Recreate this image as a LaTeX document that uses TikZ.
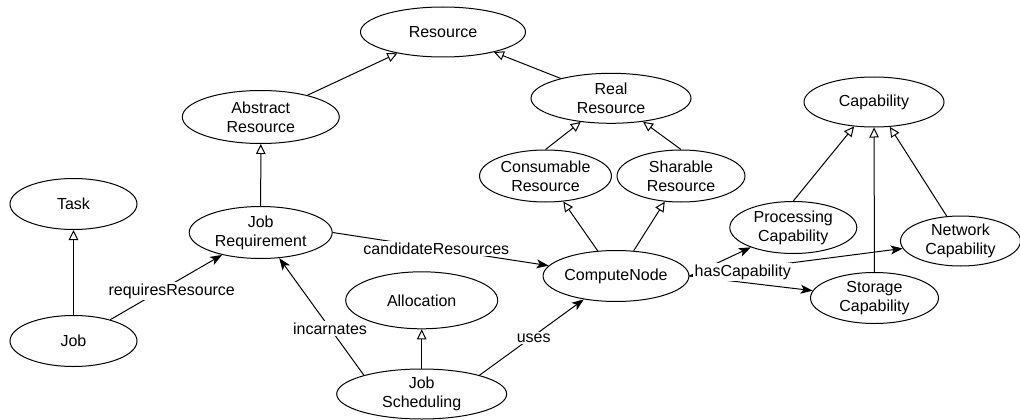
\documentclass[tikz,border=0pt]{standalone}
\usepackage{fontspec}
\setmainfont{Liberation Sans}
\usetikzlibrary{shapes.geometric,arrows.meta}

\tikzset{
  cls/.style={ellipse, draw, line width=1pt, inner sep=0pt, align=center,
              font=\fontsize{16}{19}\selectfont},
  isa/.style={draw, line width=1pt,
              -{Triangle[open, length=10pt, width=9.5pt, fill=white]}},
  rel/.style={draw, line width=1pt,
              -{Stealth[length=12pt, width=9pt, inset=3pt]}},
  lbl/.style={fill=white, inner sep=1.5pt, font=\fontsize{16}{19}\selectfont},
}

\begin{document}
\begin{tikzpicture}[x=1pt, y=-1pt]
\useasboundingbox (0,0) rectangle (1020,420);

% classes
\node[cls, minimum width=165, minimum height=50] (res)   at (443,32)    {Resource};
\node[cls, minimum width=157, minimum height=53] (ar)    at (260.8,117) {Abstract\\Resource};
\node[cls, minimum width=160, minimum height=50] (real)  at (611,98.3)  {Real\\Resource};
\node[cls, minimum width=127, minimum height=51] (task)  at (73.5,204)  {Task};
\node[cls, minimum width=127, minimum height=51] (job)   at (73.5,341)  {Job};
\node[cls, minimum width=143, minimum height=52] (jr)    at (260.7,232.5) {Job\\Requirement};
\node[cls, minimum width=152, minimum height=57] (alloc) at (421.7,300.3) {Allocation};
\node[cls, minimum width=170, minimum height=50] (js)    at (421.7,394) {Job\\Scheduling};
\node[cls, minimum width=144, minimum height=51] (cn)    at (616,276)   {ComputeNode};
\node[cls, minimum width=132, minimum height=52] (cons)  at (545.5,176) {Consumable\\Resource};
\node[cls, minimum width=128, minimum height=52] (shar)  at (681,176)   {Sharable\\Resource};
\node[cls, minimum width=140, minimum height=50] (cap)   at (874,102)   {Capability};
\node[cls, minimum width=127, minimum height=52] (proc)  at (793.3,227.5) {Processing\\Capability};
\node[cls, minimum width=120, minimum height=50] (net)   at (960.5,241) {Network\\Capability};
\node[cls, minimum width=128, minimum height=51] (stor)  at (874.5,298) {Storage\\Capability};

% generalisations
\draw[isa] (ar) -- (res);
\draw[isa] (real) -- (res);
\draw[isa] (cons.north) -- (real);
\draw[isa] (shar.north) -- (real);
\draw[isa] (cn.126) -- (cons);
\draw[isa] (cn.55) -- (shar);
\draw[isa] (jr) -- (ar);
\draw[isa] (job) -- (task);
\draw[isa] (js) -- (alloc);
\draw[isa] (proc.north) -- (cap);
\draw[isa] (stor) -- (cap);
\draw[isa] (net.119) -- (cap);

% associations
\draw[rel] (job) -- node[lbl, pos=.55, yshift=-7pt] {requiresResource} (jr);
\draw[rel] (jr.east) -- node[lbl, pos=.48] {candidateResources} (cn);
\draw[rel] (js.162) -- node[lbl, pos=.4] {incarnates} (jr);
\draw[rel] (js.18) -- node[lbl, pos=.5, xshift=2pt, yshift=-1pt] {uses} (cn);
\draw[rel] (cn.east) -- (proc);
\draw[rel] (cn.east) -- (stor);
\draw[rel] (cn.east) -- node[lbl, pos=.25, yshift=-3pt] {hasCapability} (net);

\end{tikzpicture}
\end{document}
